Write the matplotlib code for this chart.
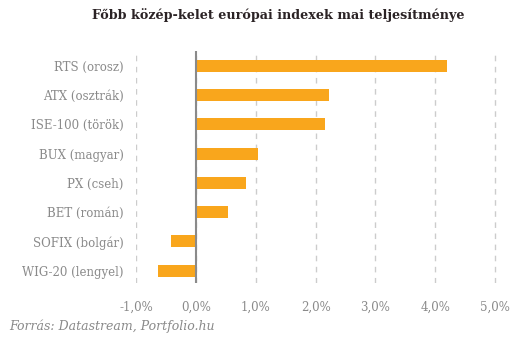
import matplotlib.pyplot as plt
from matplotlib.ticker import FuncFormatter

# adatok (felülről lefelé)
labels = ['RTS (orosz)', 'ATX (osztrák)', 'ISE-100 (török)', 'BUX (magyar)',
          'PX (cseh)', 'BET (román)', 'SOFIX (bolgár)', 'WIG-20 (lengyel)']
values = [4.19, 2.23, 2.15, 1.03, 0.84, 0.54, -0.41, -0.64]
xticks = [-1, 0, 1, 2, 3, 4, 5]

plt.rcParams['font.family'] = ['DejaVu Serif']

fig = plt.figure(figsize=(5.3, 3.41), dpi=100)
ax = fig.add_axes([136 / 530, 1 - 283 / 341, (497 - 136) / 530, (283 - 51) / 341])

pos = list(range(len(labels)))[::-1]
ax.barh(pos, values, height=0.41, color='#f9a61c', zorder=3)

ax.set_xlim(-1.0, 5.03)
ax.set_ylim(-0.42, 7.5)
ax.set_xticks(xticks)
ax.xaxis.set_major_formatter(FuncFormatter(lambda v, p: f'{v:.1f}'.replace('.', ',') + '%'))
ax.set_yticks(pos)
ax.set_yticklabels(labels)
ax.tick_params(axis='both', length=0, colors='#8a8a8a', labelsize=8.5)
ax.tick_params(axis='x', pad=13)
ax.tick_params(axis='y', pad=9)

for s in ax.spines.values():
    s.set_visible(False)
ax.grid(axis='x', color='#cccccc', ls=(0, (4, 4)), lw=1, zorder=0)
ax.axvline(0, color='#8a8a8a', lw=1.5, zorder=4)

fig.text(0.525, 0.955, 'Főbb közép-kelet európai indexek mai teljesítménye',
         ha='center', va='center', fontsize=9.2, fontweight='bold', color='#2b2325')
fig.text(9 / 530, 1 - 326 / 341, 'Forrás: Datastream, Portfolio.hu',
         ha='left', va='center', fontsize=9, style='italic', color='#8a8a8a')

fig.savefig('out.png', dpi=100)
